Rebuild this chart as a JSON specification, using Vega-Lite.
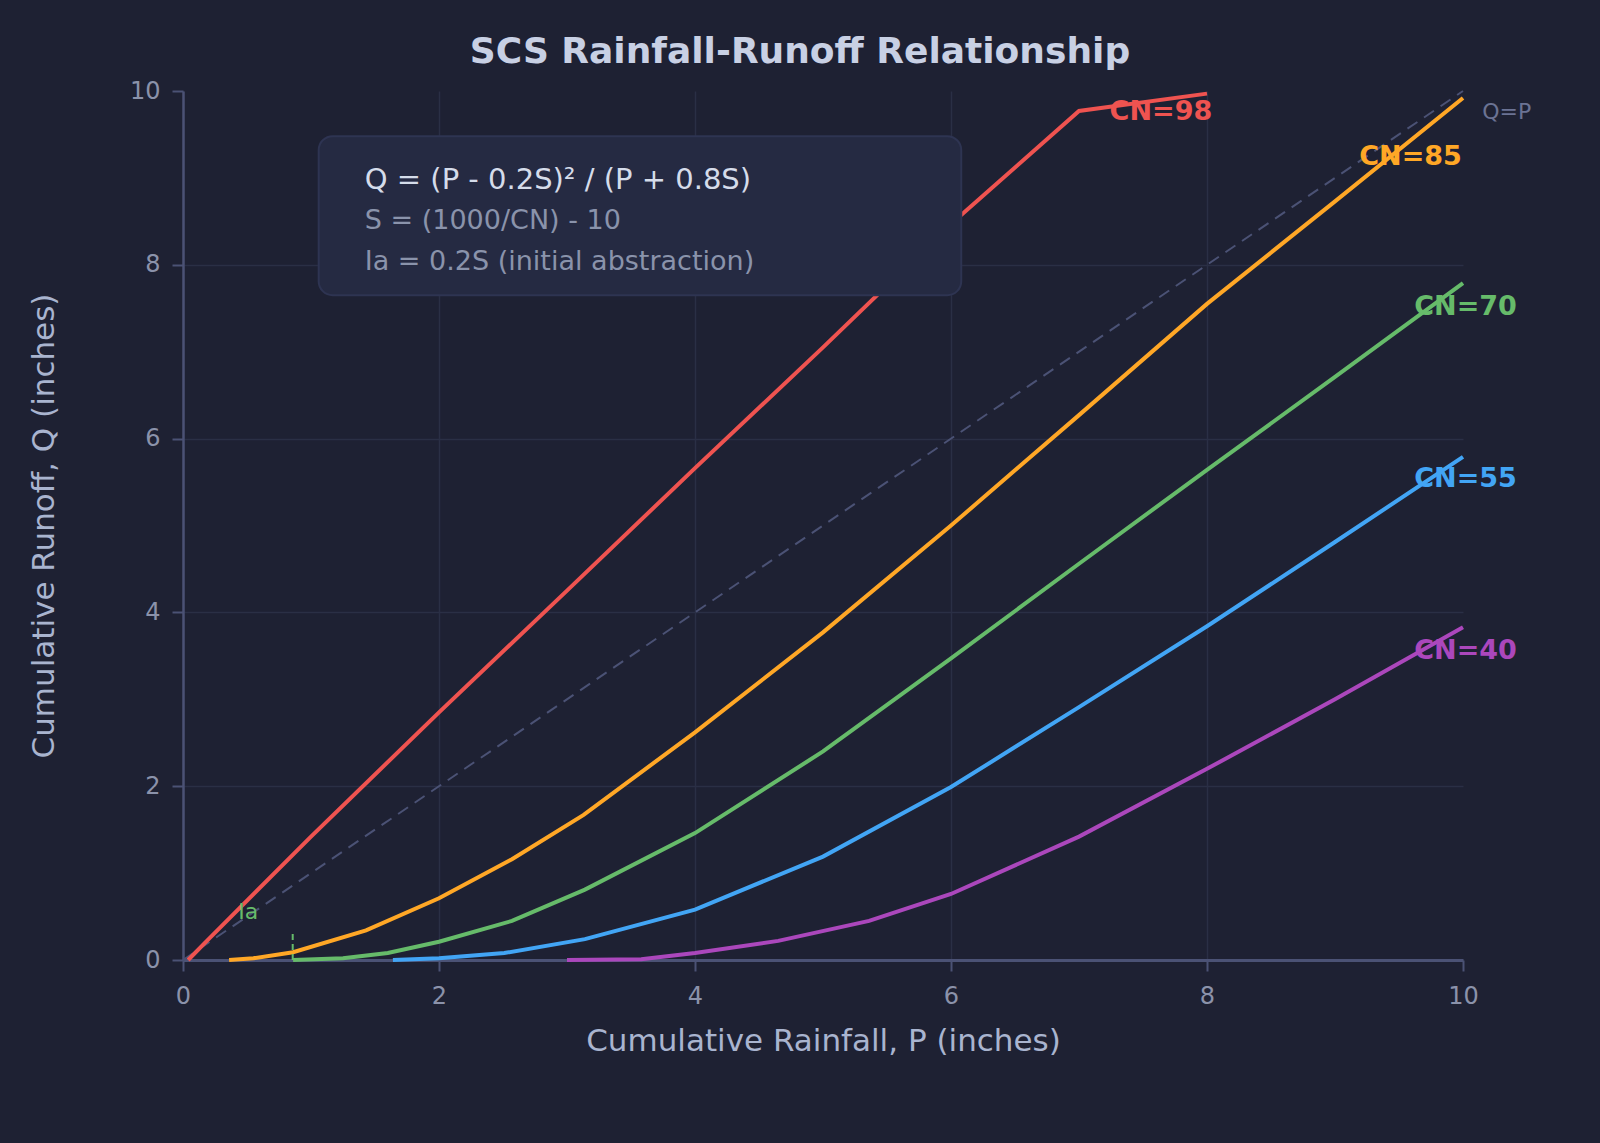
{
  "$schema": "https://vega.github.io/schema/vega-lite/v6.json",
  "width": 1280,
  "height": 869,
  "autosize": {"type": "none"},
  "padding": {"left": 183, "top": 91, "right": 137, "bottom": 183},
  "background": "#1e2133",
  "title": {
    "text": "SCS Rainfall-Runoff Relationship",
    "font": "DejaVu Sans",
    "fontSize": 36,
    "fontWeight": "bold",
    "color": "#c8d0e4",
    "anchor": "middle",
    "dx": -23,
    "offset": 8
  },
  "config": {
    "view": {"stroke": null},
    "font": "DejaVu Sans",
    "axis": {
      "domainColor": "#4b5275",
      "tickColor": "#4b5275",
      "tickWidth": 2,
      "tickSize": 11,
      "labelColor": "#8b92aa",
      "labelFont": "DejaVu Sans",
      "labelFontSize": 24,
      "labelFlush": false,
      "titleColor": "#a9b4cf",
      "titleFont": "DejaVu Sans",
      "titleFontSize": 31,
      "titleFontWeight": "normal",
      "gridColor": "#2a2f45",
      "gridWidth": 1.5,
      "gridOpacity": {"condition": {"test": "datum.value == 10", "value": 0}, "value": 1}
    },
    "axisX": {"domainWidth": 3, "labelPadding": 13, "titlePadding": 18},
    "axisY": {"domainWidth": 2.5, "labelPadding": 12, "titlePadding": 69}
  },
  "datasets": {
    "diag": [
      {"P": 0, "Q": 0},
      {"P": 10, "Q": 10}
    ],
    "curves": [
      {"CN": "98", "P": 0.04, "Q": 0},
      {"CN": "98", "P": 0.2, "Q": 0.24},
      {"CN": "98", "P": 1, "Q": 1.42},
      {"CN": "98", "P": 2, "Q": 2.85},
      {"CN": "98", "P": 3, "Q": 4.25},
      {"CN": "98", "P": 4, "Q": 5.66},
      {"CN": "98", "P": 5, "Q": 7.05},
      {"CN": "98", "P": 6, "Q": 8.47},
      {"CN": "98", "P": 7, "Q": 9.77},
      {"CN": "98", "P": 8, "Q": 9.97},
      {"CN": "85", "P": 0.36, "Q": 0},
      {"CN": "85", "P": 0.55, "Q": 0.02},
      {"CN": "85", "P": 0.86, "Q": 0.09},
      {"CN": "85", "P": 1.43, "Q": 0.34},
      {"CN": "85", "P": 2, "Q": 0.71},
      {"CN": "85", "P": 2.57, "Q": 1.16},
      {"CN": "85", "P": 3.13, "Q": 1.67},
      {"CN": "85", "P": 4, "Q": 2.62},
      {"CN": "85", "P": 5, "Q": 3.77},
      {"CN": "85", "P": 6, "Q": 5.0},
      {"CN": "85", "P": 7, "Q": 6.27},
      {"CN": "85", "P": 8, "Q": 7.55},
      {"CN": "85", "P": 9, "Q": 8.73},
      {"CN": "85", "P": 10, "Q": 9.92},
      {"CN": "70", "P": 0.86, "Q": 0},
      {"CN": "70", "P": 1.25, "Q": 0.02},
      {"CN": "70", "P": 1.6, "Q": 0.08},
      {"CN": "70", "P": 2, "Q": 0.21},
      {"CN": "70", "P": 2.57, "Q": 0.45},
      {"CN": "70", "P": 3.14, "Q": 0.81},
      {"CN": "70", "P": 4, "Q": 1.46},
      {"CN": "70", "P": 5, "Q": 2.4},
      {"CN": "70", "P": 6, "Q": 3.47},
      {"CN": "70", "P": 7, "Q": 4.56},
      {"CN": "70", "P": 8, "Q": 5.64},
      {"CN": "70", "P": 9, "Q": 6.71},
      {"CN": "70", "P": 10, "Q": 7.79},
      {"CN": "55", "P": 1.64, "Q": 0},
      {"CN": "55", "P": 2, "Q": 0.02},
      {"CN": "55", "P": 2.51, "Q": 0.08},
      {"CN": "55", "P": 3.14, "Q": 0.24},
      {"CN": "55", "P": 4, "Q": 0.58},
      {"CN": "55", "P": 5, "Q": 1.19},
      {"CN": "55", "P": 6, "Q": 1.99},
      {"CN": "55", "P": 7, "Q": 2.91},
      {"CN": "55", "P": 8, "Q": 3.84},
      {"CN": "55", "P": 9, "Q": 4.81},
      {"CN": "55", "P": 10, "Q": 5.79},
      {"CN": "40", "P": 3, "Q": 0},
      {"CN": "40", "P": 3.58, "Q": 0.01},
      {"CN": "40", "P": 4, "Q": 0.08},
      {"CN": "40", "P": 4.65, "Q": 0.22},
      {"CN": "40", "P": 5.36, "Q": 0.45},
      {"CN": "40", "P": 6, "Q": 0.76},
      {"CN": "40", "P": 7, "Q": 1.42},
      {"CN": "40", "P": 8, "Q": 2.2},
      {"CN": "40", "P": 9, "Q": 3.0},
      {"CN": "40", "P": 10, "Q": 3.83}
    ],
    "labels": [
      {"CN": "98", "label": "CN=98", "P": 7.64, "Q": 9.76},
      {"CN": "85", "label": "CN=85", "P": 9.59, "Q": 9.24},
      {"CN": "70", "label": "CN=70", "P": 10.02, "Q": 7.51},
      {"CN": "55", "label": "CN=55", "P": 10.02, "Q": 5.53},
      {"CN": "40", "label": "CN=40", "P": 10.02, "Q": 3.56}
    ],
    "notes": [
      {"kind": "main", "note": "Q = (P - 0.2S)² / (P + 0.8S)", "P": 1.42, "Q": 8.98},
      {"kind": "sub", "note": "S = (1000/CN) - 10", "P": 1.42, "Q": 8.5},
      {"kind": "sub", "note": "Ia = 0.2S (initial abstraction)", "P": 1.42, "Q": 8.03},
      {"kind": "diag", "note": "Q=P", "P": 10.15, "Q": 9.76},
      {"kind": "ia", "note": "Ia", "P": 0.51, "Q": 0.55}
    ]
  },
  "layer": [
    {
      "data": {"name": "diag"},
      "mark": {"type": "line", "color": "#4b5275", "strokeWidth": 2, "strokeDash": [12, 8]},
      "encoding": {
        "x": {
          "field": "P",
          "type": "quantitative",
          "scale": {"domain": [0, 10], "nice": false},
          "axis": {"title": "Cumulative Rainfall, P (inches)", "values": [0, 2, 4, 6, 8, 10], "format": "d"}
        },
        "y": {
          "field": "Q",
          "type": "quantitative",
          "scale": {"domain": [0, 10], "nice": false},
          "axis": {"title": "Cumulative Runoff, Q (inches)", "values": [0, 2, 4, 6, 8, 10], "format": "d"}
        }
      }
    },
    {
      "data": {"name": "curves"},
      "mark": {"type": "line", "strokeWidth": 4},
      "encoding": {
        "x": {"field": "P", "type": "quantitative"},
        "y": {"field": "Q", "type": "quantitative"},
        "color": {
          "field": "CN",
          "type": "nominal",
          "scale": {
            "domain": ["98", "85", "70", "55", "40"],
            "range": ["#ef5350", "#ffa726", "#66bb6a", "#42a5f5", "#ab47bc"]
          },
          "legend": null
        }
      }
    },
    {
      "data": {"values": [{"box": "formula"}]},
      "mark": {"type": "rect", "fill": "#252a42", "stroke": "#2e3452", "strokeWidth": 2, "cornerRadius": 14},
      "encoding": {
        "x": {"datum": 1.06},
        "x2": {"datum": 6.08},
        "y": {"datum": 9.48},
        "y2": {"datum": 7.65}
      }
    },
    {
      "data": {"name": "notes"},
      "transform": [{"filter": "datum.kind == 'main'"}],
      "mark": {"type": "text", "align": "left", "baseline": "middle", "fontSize": 29, "color": "#d5dcea"},
      "encoding": {
        "x": {"field": "P", "type": "quantitative"},
        "y": {"field": "Q", "type": "quantitative"},
        "text": {"field": "note"}
      }
    },
    {
      "data": {"name": "notes"},
      "transform": [{"filter": "datum.kind == 'sub'"}],
      "mark": {"type": "text", "align": "left", "baseline": "middle", "fontSize": 27, "color": "#8a93ab"},
      "encoding": {
        "x": {"field": "P", "type": "quantitative"},
        "y": {"field": "Q", "type": "quantitative"},
        "text": {"field": "note"}
      }
    },
    {
      "data": {"name": "notes"},
      "transform": [{"filter": "datum.kind == 'diag'"}],
      "mark": {"type": "text", "align": "left", "baseline": "middle", "fontSize": 22, "color": "#6b7394"},
      "encoding": {
        "x": {"field": "P", "type": "quantitative"},
        "y": {"field": "Q", "type": "quantitative"},
        "text": {"field": "note"}
      }
    },
    {
      "data": {"values": [{"marker": "Ia"}]},
      "mark": {"type": "rule", "color": "#66bb6a", "strokeWidth": 2, "strokeDash": [6, 4]},
      "encoding": {
        "x": {"datum": 0.857},
        "y": {"datum": 0},
        "y2": {"datum": 0.33}
      }
    },
    {
      "data": {"name": "notes"},
      "transform": [{"filter": "datum.kind == 'ia'"}],
      "mark": {"type": "text", "align": "center", "baseline": "middle", "fontSize": 22, "color": "#66bb6a"},
      "encoding": {
        "x": {"field": "P", "type": "quantitative"},
        "y": {"field": "Q", "type": "quantitative"},
        "text": {"field": "note"}
      }
    },
    {
      "data": {"name": "labels"},
      "mark": {"type": "text", "align": "center", "baseline": "middle", "fontSize": 27, "fontWeight": "bold"},
      "encoding": {
        "x": {"field": "P", "type": "quantitative"},
        "y": {"field": "Q", "type": "quantitative"},
        "text": {"field": "label"},
        "color": {"field": "CN", "type": "nominal", "legend": null}
      }
    }
  ]
}
